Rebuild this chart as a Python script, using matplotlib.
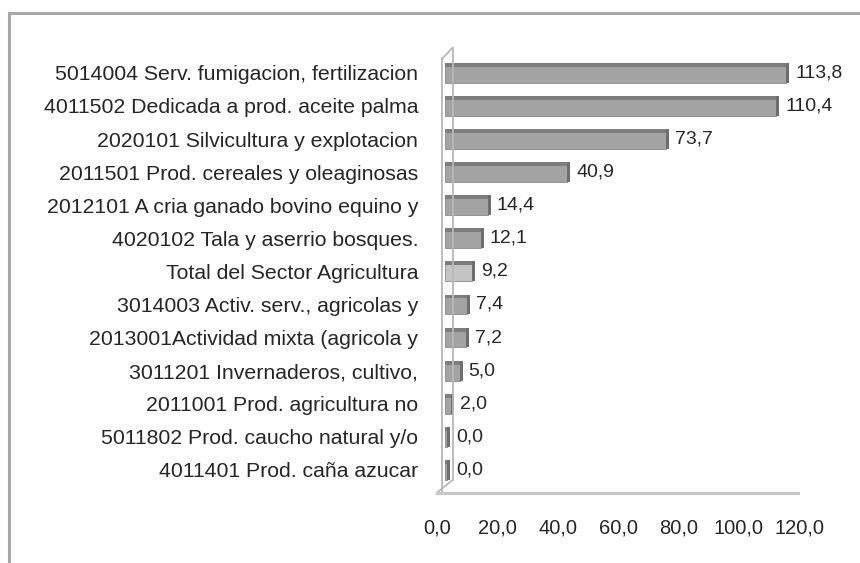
import matplotlib.pyplot as plt
from matplotlib.patches import Rectangle
from matplotlib.lines import Line2D

plt.rcParams['font.family'] = ['Liberation Sans', 'DejaVu Sans']

# Datos (orden de arriba hacia abajo)
categorias = [
    "5014004 Serv. fumigacion, fertilizacion",
    "4011502 Dedicada a prod. aceite palma",
    "2020101 Silvicultura y explotacion",
    "2011501 Prod. cereales y oleaginosas",
    "2012101 A cria ganado bovino equino y",
    "4020102 Tala y aserrio bosques.",
    "Total del Sector Agricultura",
    "3014003 Activ. serv., agricolas y",
    "2013001Actividad mixta (agricola y",
    "3011201 Invernaderos, cultivo,",
    "2011001 Prod. agricultura no",
    "5011802 Prod. caucho natural y/o",
    "4011401 Prod. caña azucar",
]
valores = [113.8, 110.4, 73.7, 40.9, 14.4, 12.1, 9.2, 7.4, 7.2, 5.0, 2.0, 0.0, 0.0]
ticks_x = [0, 20, 40, 60, 80, 100, 120]

fig = plt.figure(figsize=(8.6, 5.63), dpi=100)
ax = fig.add_axes([0.517, 0.136, 0.419, 0.764])

texto = '#262626'
y = list(range(len(valores)))
for i, v in enumerate(valores):
    cara = '#c4c4c4' if categorias[i].startswith('Total') else '#a3a3a3'
    ancho = max(v, 0.9)
    # cara principal
    ax.barh(i, ancho, height=0.6, color=cara, edgecolor='#8a8a8a', linewidth=0.6)
    # borde superior oscuro (efecto 3D)
    ax.barh(i - 0.24, ancho, height=0.12, color='#7d7d7d', linewidth=0)
    # tapa derecha
    ax.barh(i, 1.0, left=ancho, height=0.6, color='#6e6e6e', linewidth=0)
    etiqueta = f"{v:.1f}".replace('.', ',')
    ax.text(ancho + 3.0, i, etiqueta, va='center', ha='left',
            fontsize=14, color=texto)

ax.set_xlim(0, 120)
ax.set_ylim(len(valores) - 0.5, -0.5)
ax.set_yticks(y)
ax.set_yticklabels(categorias, fontsize=15.3, color=texto)
ax.tick_params(axis='y', length=0, pad=19)
ax.set_xticks([])
for s in ax.spines.values():
    s.set_visible(False)

# eje de etiquetas inferiores (algo desplazado respecto a las barras, como en el original)
axt = fig.add_axes([437 / 860, 0.136, (799 - 437) / 860, 0.001])
axt.set_xlim(0, 120)
axt.set_xticks(ticks_x)
axt.set_xticklabels([f"{t:.1f}".replace('.', ',') for t in ticks_x],
                    fontsize=14.5, color=texto)
axt.set_yticks([])
axt.tick_params(axis='x', length=0, pad=23)
axt.patch.set_visible(False)
for s in axt.spines.values():
    s.set_visible(False)

# pared izquierda y piso (perspectiva)
gris = '#b8b8b8'
kw = dict(transform=ax.transAxes, color=gris, lw=1.3, clip_on=False)
ax.add_line(Line2D([0.022, 0.022], [0.015, 1.02], **kw))
ax.add_line(Line2D([-0.006, -0.006], [-0.015, 0.995], **kw))
ax.add_line(Line2D([-0.006, 0.022], [0.995, 1.02], **kw))
ax.add_line(Line2D([-0.022, 0.022], [-0.015, 0.015], **kw))
ax.add_line(Line2D([-0.022, 0.98], [-0.015, -0.015], color='#c8c8c8', lw=2.2,
                   transform=ax.transAxes, clip_on=False))

# marco exterior
fig.patches.append(Rectangle((0.011, -0.01), 1.0, 0.987, transform=fig.transFigure,
                             fill=False, edgecolor='#a8a8a8', lw=2.2))

fig.savefig('out.png', dpi=100)
